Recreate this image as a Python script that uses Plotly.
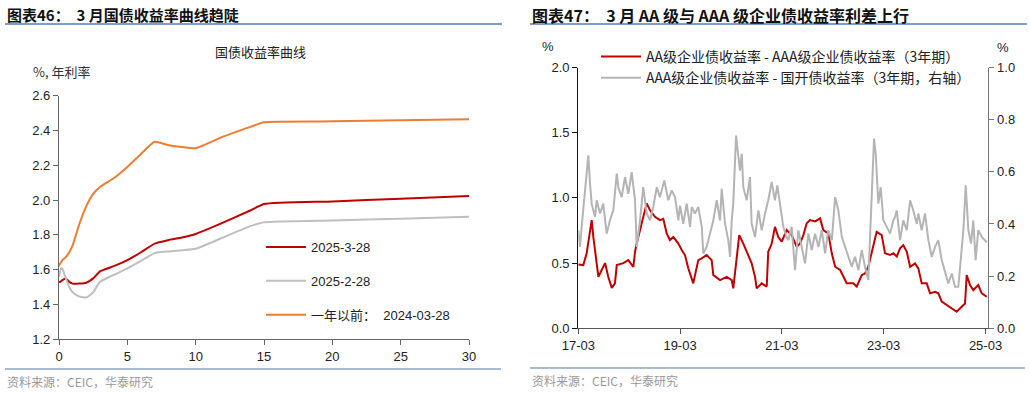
import plotly.graph_objects as go

# ---------------- Left chart: yield curves ----------------
maturity = [0, 0.08, 0.17, 0.25, 0.5, 0.75, 1, 1.5, 2, 2.5, 3, 4, 5, 6, 7, 8, 9, 10, 12, 14, 15, 20, 25, 30]
curve_2025_03_28 = [1.53, 1.53, 1.535, 1.54, 1.55, 1.53, 1.52, 1.52, 1.525, 1.55, 1.59, 1.62, 1.655, 1.70, 1.75, 1.77,
                    1.785, 1.805, 1.87, 1.94, 1.977, 1.992, 2.008, 2.023]
curve_2025_02_28 = [1.56, 1.59, 1.61, 1.605, 1.55, 1.50, 1.47, 1.445, 1.44, 1.47, 1.53, 1.57, 1.607, 1.65, 1.695, 1.705,
                    1.712, 1.72, 1.785, 1.85, 1.872, 1.883, 1.893, 1.904]
curve_2024_03_28 = [1.62, 1.635, 1.645, 1.655, 1.672, 1.70, 1.74, 1.865, 1.965, 2.035, 2.075, 2.125, 2.19, 2.265, 2.335,
                    2.315, 2.305, 2.298, 2.364, 2.42, 2.447, 2.452, 2.458, 2.464]
left_names = ["2025-3-28", "2025-2-28", "一年以前：  2024-03-28"]
left_colors = ["#c00000", "#bfbfbf", "#ed7d31"]

# ---------------- Right chart: credit spreads ----------------
red_dates = ["2017-03-01", "2017-04-06", "2017-04-30", "2017-05-24", "2017-06-05", "2017-06-17", "2017-07-11",
             "2017-07-23", "2017-09-09", "2017-10-02", "2017-10-27", "2017-11-19", "2017-12-02", "2018-01-18",
             "2018-02-23", "2018-03-31", "2018-04-12", "2018-04-24", "2018-05-30", "2018-07-05", "2018-07-29",
             "2018-09-02", "2018-10-08", "2018-11-01", "2018-11-25", "2018-12-19", "2019-01-12", "2019-02-17",
             "2019-03-13", "2019-04-06", "2019-04-29", "2019-06-04", "2019-07-10", "2019-08-04", "2019-09-08",
             "2019-10-14", "2019-10-26", "2019-12-13", "2020-01-30", "2020-03-06", "2020-03-17", "2020-04-11",
             "2020-04-29", "2020-05-28", "2020-07-03", "2020-07-27", "2020-08-20", "2020-09-01", "2020-10-07",
             "2020-11-12", "2020-11-23", "2020-12-18", "2021-01-10", "2021-02-03", "2021-02-28", "2021-04-04",
             "2021-05-10", "2021-06-15", "2021-07-09", "2021-08-02", "2021-08-26", "2021-09-19", "2021-10-25",
             "2021-11-30", "2021-12-23", "2022-01-28", "2022-02-22", "2022-03-18", "2022-04-23", "2022-06-09",
             "2022-07-26", "2022-08-20", "2022-09-25", "2022-10-18", "2022-11-11", "2022-12-17", "2023-01-10",
             "2023-02-15", "2023-03-11", "2023-04-16", "2023-05-10", "2023-06-03", "2023-06-27", "2023-07-20",
             "2023-08-14", "2023-09-07", "2023-10-12", "2023-11-05", "2023-11-29", "2024-01-04", "2024-01-28",
             "2024-03-04", "2024-03-27", "2024-04-21", "2024-05-27", "2024-07-13", "2024-08-06", "2024-09-11",
             "2024-10-05", "2024-10-17", "2024-11-10", "2024-12-03", "2025-01-08", "2025-02-02", "2025-03-10"]
red_values = [0.49, 0.485, 0.575, 0.75, 0.83, 0.70, 0.47, 0.395, 0.50, 0.395, 0.31, 0.345, 0.485, 0.50,
              0.523, 0.47, 0.587, 0.65, 0.805, 0.958, 0.905, 0.855, 0.83, 0.84, 0.728, 0.677, 0.70, 0.65,
              0.60, 0.56, 0.46, 0.345, 0.523, 0.536, 0.562, 0.523, 0.408, 0.37, 0.395, 0.37, 0.306, 0.575,
              0.715, 0.65, 0.55, 0.498, 0.395, 0.306, 0.345, 0.32, 0.587, 0.65, 0.778, 0.70, 0.664, 0.753,
              0.715, 0.625, 0.65, 0.715, 0.805, 0.83, 0.82, 0.843, 0.753, 0.728, 0.575, 0.472, 0.447, 0.345,
              0.345, 0.32, 0.408, 0.42, 0.472, 0.625, 0.74, 0.715, 0.575, 0.562, 0.575, 0.55, 0.613, 0.638,
              0.587, 0.472, 0.498, 0.46, 0.345, 0.345, 0.268, 0.28, 0.268, 0.204, 0.178, 0.14, 0.127, 0.165,
              0.19, 0.408, 0.332, 0.293, 0.332, 0.268, 0.242]

gray_dates = ["2017-03-01", "2017-03-13", "2017-03-25", "2017-04-18", "2017-04-30", "2017-05-12", "2017-05-24",
              "2017-06-05", "2017-06-29", "2017-07-11", "2017-08-04", "2017-08-27", "2017-09-21", "2017-10-14",
              "2017-11-07", "2017-12-02", "2017-12-13", "2018-01-06", "2018-01-30", "2018-02-23", "2018-03-19",
              "2018-04-12", "2018-04-24", "2018-05-18", "2018-06-10", "2018-07-05", "2018-07-29", "2018-08-21",
              "2018-09-15", "2018-10-08", "2018-11-08", "2018-12-07", "2018-12-31", "2019-01-24", "2019-02-17",
              "2019-03-01", "2019-03-24", "2019-04-18", "2019-05-12", "2019-05-24", "2019-06-16", "2019-07-10",
              "2019-08-04", "2019-08-15", "2019-09-08", "2019-10-02", "2019-10-26", "2019-11-19", "2019-12-13",
              "2019-12-25", "2020-01-18", "2020-02-10", "2020-02-23", "2020-03-06", "2020-03-17", "2020-04-06",
              "2020-04-22", "2020-05-04", "2020-05-17", "2020-05-28", "2020-06-21", "2020-07-15", "2020-07-27",
              "2020-08-20", "2020-09-13", "2020-10-07", "2020-10-31", "2020-11-23", "2020-12-18", "2021-01-10",
              "2021-01-27", "2021-02-15", "2021-03-11", "2021-04-04", "2021-04-16", "2021-05-10", "2021-06-03",
              "2021-06-27", "2021-07-21", "2021-08-14", "2021-09-07", "2021-10-01", "2021-10-25", "2021-11-18",
              "2021-12-12", "2022-01-05", "2022-01-28", "2022-02-22", "2022-03-18", "2022-04-10", "2022-05-05",
              "2022-05-28", "2022-06-21", "2022-07-15", "2022-08-08", "2022-09-01", "2022-09-25", "2022-10-18",
              "2022-11-11", "2022-11-23", "2022-12-10", "2022-12-22", "2023-01-03", "2023-01-22", "2023-02-08",
              "2023-02-27", "2023-03-23", "2023-04-16", "2023-05-10", "2023-05-22", "2023-06-03", "2023-06-27",
              "2023-07-20", "2023-08-14", "2023-09-07", "2023-09-30", "2023-10-24", "2023-11-05", "2023-11-29",
              "2023-12-23", "2024-01-16", "2024-02-09", "2024-03-04", "2024-03-27", "2024-04-21", "2024-05-15",
              "2024-06-07", "2024-07-02", "2024-07-25", "2024-08-18", "2024-09-11", "2024-09-23", "2024-10-10",
              "2024-10-29", "2024-11-17", "2024-12-03", "2024-12-20", "2025-01-08", "2025-02-02", "2025-03-10"]
gray_values = [0.376, 0.312, 0.389, 0.516, 0.605, 0.663, 0.555, 0.478, 0.427, 0.491, 0.44, 0.478, 0.363, 0.414,
               0.452, 0.593, 0.541, 0.503, 0.58, 0.516, 0.599, 0.491, 0.312, 0.414, 0.541, 0.44, 0.414, 0.465,
               0.541, 0.503, 0.567, 0.491, 0.529, 0.503, 0.414, 0.47, 0.401, 0.478, 0.389, 0.465, 0.44, 0.465,
               0.389, 0.287, 0.312, 0.363, 0.414, 0.491, 0.414, 0.535, 0.401, 0.338, 0.274, 0.414, 0.478, 0.739,
               0.669, 0.605, 0.669, 0.541, 0.491, 0.58, 0.401, 0.35, 0.452, 0.376, 0.44, 0.491, 0.561, 0.491,
               0.548, 0.478, 0.389, 0.35, 0.338, 0.389, 0.223, 0.376, 0.312, 0.249, 0.363, 0.30, 0.363, 0.312,
               0.376, 0.287, 0.376, 0.338, 0.503, 0.452, 0.35, 0.312, 0.274, 0.236, 0.274, 0.223, 0.30, 0.236,
               0.185, 0.35, 0.541, 0.727, 0.669, 0.478, 0.541, 0.414, 0.389, 0.363, 0.414, 0.427, 0.452, 0.338,
               0.414, 0.376, 0.491, 0.452, 0.401, 0.44, 0.376, 0.44, 0.338, 0.274, 0.312, 0.338, 0.261, 0.21,
               0.172, 0.21, 0.159, 0.159, 0.312, 0.376, 0.548, 0.376, 0.325, 0.414, 0.261, 0.376, 0.35, 0.33]

right_names = ["AA级企业债收益率 - AAA级企业债收益率（3年期）", "AAA级企业债收益率 - 国开债收益率（3年期，右轴）"]
right_colors = ["#c00000", "#b4b4b4"]
x_tick_dates = ["2017-03-01", "2019-03-01", "2021-03-01", "2023-03-01", "2025-03-01"]
x_tick_labels = ["17-03", "19-03", "21-03", "23-03", "25-03"]

W, H = 1030, 393
def px(x):
    return x / W
def py(y):
    return 1 - y / H

CJK = "Noto Sans CJK SC"
LAT = "Liberation Sans, Arial, " + CJK

fig = go.Figure()

left_series = [curve_2025_03_28, curve_2025_02_28, curve_2024_03_28]
for i, (name, vals, col) in enumerate(zip(left_names, left_series, left_colors)):
    fig.add_trace(go.Scatter(x=maturity, y=vals, name=name, mode="lines",
                             line=dict(color=col, width=2, shape="spline", smoothing=0.5),
                             xaxis="x", yaxis="y", legend="legend", legendgroup=f"l{i}"))

fig.add_trace(go.Scatter(x=gray_dates, y=gray_values, name=right_names[1], mode="lines",
                         line=dict(color=right_colors[1], width=2),
                         xaxis="x2", yaxis="y3", legend="legend2", legendrank=2))
fig.add_trace(go.Scatter(x=red_dates, y=red_values, name=right_names[0], mode="lines",
                         line=dict(color=right_colors[0], width=2),
                         xaxis="x2", yaxis="y2", legend="legend2", legendrank=1))

axis_common = dict(showgrid=False, zeroline=False, showline=True, ticks="outside", ticklen=5,
                   automargin=False, tickfont=dict(family=LAT, size=13, color="#222"))

fig.update_layout(
    width=W, height=H, margin=dict(l=0, r=0, t=0, b=0, autoexpand=False),
    paper_bgcolor="white", plot_bgcolor="white",
    font=dict(family=CJK, size=13, color="#222"),
    xaxis=dict(domain=[px(59), px(469)], range=[0, 30], tickvals=[0, 5, 10, 15, 20, 25, 30],
               anchor="y", linecolor="#666", tickcolor="#666", linewidth=1.3, **axis_common),
    yaxis=dict(domain=[py(339.3), py(95.6)], range=[1.2, 2.6], dtick=0.2, tickformat=".1f",
               anchor="x", linecolor="#666", tickcolor="#666", linewidth=1.3, **axis_common),
    xaxis2=dict(domain=[px(578.3), px(988.3)], type="date", range=["2017-03-01", "2025-03-21"],
                tickvals=x_tick_dates, ticktext=x_tick_labels, anchor="y2",
                linecolor="#555", tickcolor="#555", linewidth=1.3, **axis_common),
    yaxis2=dict(domain=[py(328.3), py(67.5)], range=[0, 2], dtick=0.5, tickformat=".1f", anchor="x2",
                linecolor="#111", tickcolor="#111", linewidth=1.3, **axis_common),
    yaxis3=dict(overlaying="y2", side="right", anchor="x2", range=[0, 1], dtick=0.2, tickformat=".1f",
                linecolor="#777", tickcolor="#777", linewidth=1.3, **axis_common),
    legend=dict(x=px(261), y=py(232), xanchor="left", yanchor="top", bgcolor="rgba(0,0,0,0)",
                font=dict(family=LAT, size=13, color="#222"), tracegroupgap=14, itemwidth=40),
    legend2=dict(x=px(596), y=py(41), xanchor="left", yanchor="top", bgcolor="rgba(0,0,0,0)",
                 font=dict(family=CJK, size=14, color="#222"), tracegroupgap=0, itemwidth=40),
    showlegend=True,
)

annotations = [
    dict(x=px(5), y=py(15), text="<b>图表46：  3 月国债收益率曲线趋陡</b>", xanchor="left",
         font=dict(family=CJK, size=15, color="#111")),
    dict(x=px(530), y=py(15), text="<b>图表47：  3 月 AA 级与 AAA 级企业债收益率利差上行</b>", xanchor="left",
         font=dict(family=CJK, size=16, color="#111")),
    dict(x=px(260), y=py(52), text="国债收益率曲线", xanchor="center",
         font=dict(family=CJK, size=13, color="#222")),
    dict(x=px(31), y=py(72), text="%, 年利率", xanchor="left", font=dict(family=CJK, size=13, color="#333")),
    dict(x=px(548), y=py(46), text="%", xanchor="center", font=dict(family=LAT, size=13, color="#222")),
    dict(x=px(1003), y=py(47), text="%", xanchor="center", font=dict(family=LAT, size=13, color="#222")),
    dict(x=px(5), y=py(381), text="资料来源：CEIC，华泰研究", xanchor="left",
         font=dict(family=CJK, size=12, color="#999")),
    dict(x=px(530), y=py(380), text="资料来源：CEIC，华泰研究", xanchor="left",
         font=dict(family=CJK, size=12, color="#999")),
]
for a in annotations:
    a.update(xref="paper", yref="paper", yanchor="middle", showarrow=False)
fig.update_layout(annotations=annotations)

shapes = [
    dict(x0=px(5), x1=px(502), y0=py(24), y1=py(24), line=dict(color="#4f7fb8", width=1.5)),
    dict(x0=px(530), x1=px(1027), y0=py(24), y1=py(24), line=dict(color="#4f7fb8", width=1.5)),
    dict(x0=px(5), x1=px(501), y0=py(369), y1=py(369), line=dict(color="#a9bcd3", width=2)),
    dict(x0=px(530), x1=px(1025), y0=py(368), y1=py(368), line=dict(color="#a9bcd3", width=2)),
]
for s in shapes:
    s.update(type="line", xref="paper", yref="paper")
fig.update_layout(shapes=shapes)

fig.write_html("out.html", config={"displayModeBar": False},
               post_script="document.body.style.margin='0';document.body.style.overflow='hidden';")
